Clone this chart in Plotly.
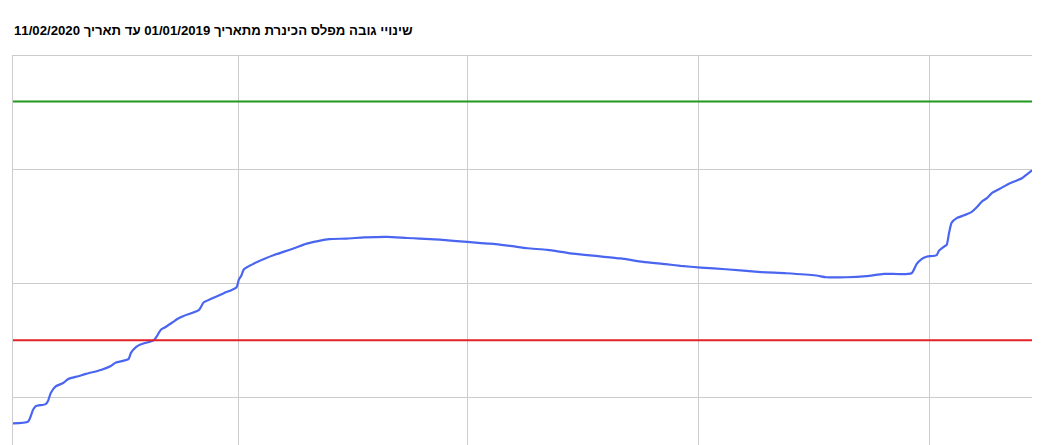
import plotly.graph_objects as go

# Kinneret level readings (m below sea level)
dates = [
    "2019-01-01", "2019-01-07", "2019-01-09", "2019-01-10", "2019-01-14", "2019-01-15",
    "2019-01-16", "2019-01-18", "2019-01-21", "2019-01-23", "2019-01-27", "2019-01-30",
    "2019-02-05", "2019-02-09", "2019-02-11", "2019-02-16", "2019-02-17", "2019-02-19",
    "2019-02-21", "2019-02-26", "2019-02-27", "2019-03-01", "2019-03-03", "2019-03-08",
    "2019-03-10", "2019-03-16", "2019-03-18", "2019-03-21", "2019-03-26", "2019-03-31",
    "2019-04-01", "2019-04-02", "2019-04-03", "2019-04-07", "2019-04-11", "2019-04-15",
    "2019-04-19", "2019-04-23", "2019-04-28", "2019-05-03", "2019-05-07", "2019-05-14",
    "2019-05-21", "2019-05-30", "2019-06-07", "2019-06-12", "2019-06-20", "2019-07-01",
    "2019-07-10", "2019-07-18", "2019-07-25", "2019-08-02", "2019-08-11", "2019-08-22",
    "2019-08-31", "2019-09-09", "2019-09-18", "2019-09-24", "2019-10-02", "2019-10-12",
    "2019-10-26", "2019-11-05", "2019-11-17", "2019-11-21", "2019-11-29", "2019-12-07",
    "2019-12-14", "2019-12-25", "2019-12-27", "2019-12-29", "2019-12-31", "2020-01-04",
    "2020-01-05", "2020-01-07", "2020-01-08", "2020-01-09", "2020-01-10", "2020-01-12",
    "2020-01-15", "2020-01-18", "2020-01-20", "2020-01-22", "2020-01-24", "2020-01-26",
    "2020-01-29", "2020-02-02", "2020-02-07", "2020-02-09", "2020-02-11",
]
levels = [
    -214.46, -214.43, -214.22, -214.16, -214.12, -214.06,
    -213.93, -213.81, -213.75, -213.68, -213.63, -213.59,
    -213.52, -213.45, -213.39, -213.33, -213.22, -213.12,
    -213.07, -213.00, -212.95, -212.81, -212.76, -212.61,
    -212.57, -212.47, -212.33, -212.27, -212.17, -212.07,
    -211.93, -211.86, -211.75, -211.65, -211.57, -211.50,
    -211.44, -211.38, -211.30, -211.25, -211.22, -211.21,
    -211.19, -211.18, -211.20, -211.21, -211.23, -211.27,
    -211.30, -211.34, -211.38, -211.41, -211.47, -211.52,
    -211.56, -211.62, -211.66, -211.69, -211.72, -211.75,
    -211.80, -211.82, -211.86, -211.89, -211.89, -211.87,
    -211.83, -211.82, -211.66, -211.57, -211.53, -211.50,
    -211.42, -211.35, -211.32, -211.10, -210.93, -210.85,
    -210.80, -210.74, -210.66, -210.56, -210.50, -210.41,
    -210.34, -210.24, -210.15, -210.08, -210.01,
]

upper_red_line = -208.8
lower_red_line = -213.0
span = [dates[0], dates[-1]]

title = "שינויי גובה מפלס הכינרת מתאריך 01/01/2019 עד תאריך 11/02/2020"

fig = go.Figure()
fig.add_trace(go.Scatter(x=dates, y=levels, mode="lines",
                         line=dict(color="#4a66f0", width=2.2, shape="spline", smoothing=0.6),
                         hoverinfo="x+y"))
fig.add_trace(go.Scatter(x=span, y=[upper_red_line] * 2, mode="lines",
                         line=dict(color="#1f9a1f", width=2), hoverinfo="y"))
fig.add_trace(go.Scatter(x=span, y=[lower_red_line] * 2, mode="lines",
                         line=dict(color="#e32228", width=2), hoverinfo="y"))

# page body has an 8px margin, so the figure is sized to sit inside it
fig.update_layout(
    width=1037, height=437,
    margin=dict(l=5, r=13, t=48, b=0),
    paper_bgcolor="white", plot_bgcolor="white",
    showlegend=False,
    font=dict(family="Liberation Sans, Arial, sans-serif", color="#000"),
    title=dict(text=title, font=dict(size=13.2, color="#000", weight="bold"),
               xref="container", yref="container", x=6 / 1037, xanchor="left",
               y=1 - 22 / 437, yanchor="middle"),
)
fig.update_xaxes(range=span, tick0="2019-01-01", dtick="M3", showticklabels=False,
                 showgrid=True, gridcolor="#cccccc", gridwidth=1, zeroline=False,
                 showline=True, mirror=True, linecolor="#cccccc", linewidth=1)
fig.update_yaxes(range=[-214.84, -208], tick0=-208, dtick=2, showticklabels=False,
                 showgrid=True, gridcolor="#cccccc", gridwidth=1, zeroline=False,
                 showline=True, linecolor="#cccccc", linewidth=1)

fig.write_html("out.html")
